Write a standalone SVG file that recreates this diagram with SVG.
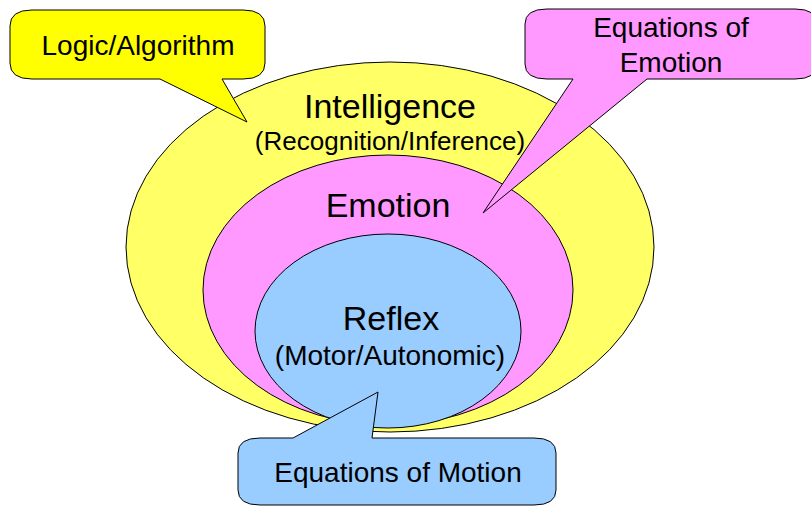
<svg xmlns="http://www.w3.org/2000/svg" width="811" height="506" viewBox="0 0 811 506">
<style>
.shape{stroke:#000;stroke-width:1}
.t{font-family:"Liberation Sans",Arial,sans-serif;fill:#000;text-anchor:middle}
.big{font-size:34px}
.mid{font-size:28px}
.sub{font-size:26px}
</style>
<rect width="811" height="506" fill="#fff"/>
<g id="intelligence">
<ellipse class="shape" cx="390" cy="247" rx="264" ry="185" fill="#FFFF66"/>
<text class="t big" x="390" y="118">Intelligence</text>
<text class="t sub" x="390" y="150">(Recognition/Inference)</text>
</g>
<g id="emotion">
<ellipse class="shape" cx="388" cy="290" rx="185" ry="135" fill="#FF99FF"/>
<text class="t big" x="388" y="217">Emotion</text>
</g>
<g id="reflex">
<ellipse class="shape" cx="388" cy="331" rx="133" ry="97" fill="#99CCFF"/>
<text class="t big" x="391" y="330">Reflex</text>
<text class="t mid" x="390" y="365">(Motor/Autonomic)</text>
</g>
<g id="connectors"></g>
<g id="logic-callout">
<path class="shape" fill="#FFFF00" d="M32,10 H243 Q265,10 265,26 V63 Q265,79 243,79 H222 L247,122 L160,79 H32 Q10,79 10,63 V26 Q10,10 32,10 Z"/>
<text class="t mid" x="138" y="55">Logic/Algorithm</text>
</g>
<g id="emotion-callout">
<path class="shape" fill="#FF99FF" d="M547,9 H795 Q817,9 817,24 V64 Q817,79 795,79 H647 L483,213 L573,79 H547 Q525,79 525,64 V24 Q525,9 547,9 Z"/>
<text class="t mid" x="671" y="37">Equations of</text>
<text class="t mid" x="671" y="72">Emotion</text>
</g>
<g id="motion-callout">
<path class="shape" fill="#99CCFF" d="M260,438 H293 L378,392 L372,438 H534 Q556,438 556,453 V490 Q556,505 534,505 H260 Q238,505 238,490 V453 Q238,438 260,438 Z"/>
<text class="t mid" x="398" y="482">Equations of Motion</text>
</g>
</svg>
